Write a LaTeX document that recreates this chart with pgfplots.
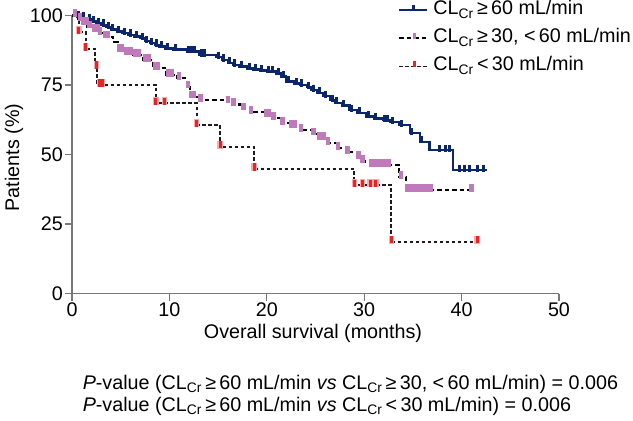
\documentclass[border=0pt]{standalone}
\usepackage{pgfplots}
\pgfplotsset{compat=1.18}
\usepackage{fontspec}
\setmainfont{Liberation Sans}
\definecolor{navy}{RGB}{12,38,110}
\definecolor{orchid}{RGB}{192,122,188}
\definecolor{kmred}{RGB}{232,36,36}
\definecolor{glow}{RGB}{255,170,170}
\definecolor{axgray}{RGB}{120,120,120}
\definecolor{dark}{RGB}{30,25,35}
\pgfdeclareplotmark{utick}{\pgfpathmoveto{\pgfpoint{0pt}{-0.3\pgfplotmarksize}}\pgfpathlineto{\pgfpoint{0pt}{\pgfplotmarksize}}\pgfusepathqstroke}
\begin{document}
\fontsize{19.8}{23}\selectfont
\begin{tikzpicture}
\begin{axis}[
  scale only axis, width=487bp, height=278bp,
  xmin=0, xmax=50, ymin=0, ymax=100,
  axis lines=left, axis line style={-, axgray, line width=1.2bp},
  tick style={axgray, line width=1.2bp}, tick align=outside, major tick length=7bp,
  xtick={0,10,20,30,40,50}, ytick={0,25,50,75,100},
  /pgf/number format/assume math mode=true,
  xticklabel style={inner sep=2bp},
  yticklabel style={inner sep=2bp},
  clip=false,
  legend style={draw=none, fill=none, at={(axis cs:33.5,105.3)}, anchor=north west,
    inner sep=0pt, row sep=9bp, column sep=5bp,
    nodes={inner sep=0pt, text height=14bp, text depth=5bp}},
  legend cell align=left,
]
% CLcr >= 60
\addplot[const plot, navy, line width=2.4bp, forget plot] coordinates {
(0,100)(0.5,99.6)(1,99.2)(1.5,98.6)(2,98)(2.5,97.3)(3,96.6)(3.5,95.8)(4,95)(4.6,94.2)
(5.2,93.6)(5.8,93)(6.4,92.4)(7,91.8)(7.5,90.8)(8,90)(8.5,89.4)(9,88.8)(9.6,88.2)(10.4,87.8)
(11.8,87)(13.1,85.8)(14.8,85)(15.4,84)(16,83)(16.5,82.2)(17.2,81.6)(18,81)(18.6,80.6)(19.3,80.2)
(20,79.8)(21,79.2)(21.5,78)(22,76.2)(22.8,75.6)(23.4,75)(24.1,74.2)(24.6,73.2)(25.2,72.2)(25.8,71)
(26.5,69.6)(27,68.6)(27.7,67.6)(28.5,66)(29.3,65)(30.2,63.6)(31,63)(31.9,62.4)(32.7,61.6)(33.6,60.6)
(34.7,57.7)(35.7,54.6)(36.7,51.6)(39.1,44.4)(42.6,44.4)};
\addplot[only marks, mark=utick, mark size=5.5bp, navy, line width=3bp, forget plot] coordinates {
(0.7,99.6)(1.2,99.2)(1.8,98.6)(2.2,98)(2.7,97.3)(3.2,96.6)(3.7,95.8)(4.2,95)(4.8,94.2)(5.4,93.6)
(6,93)(6.6,92.4)(7.2,91.8)(7.7,90.8)(8.2,90)(8.7,89.4)(9.2,88.8)(9.8,88.2)(10.6,87.8)(12,87)
(12.3,87)(12.6,87)(13.3,85.8)(13.6,85.8)(15,85)(15.6,84)(16.2,83)(16.7,82.2)(17.4,81.6)(18.2,81)
(18.8,80.6)(19.5,80.2)(20.2,79.8)(20.6,79.8)(21.2,79.2)(21.7,78)(22.2,76.2)(23,75.6)(23.6,75)(24.3,74.2)
(24.8,73.2)(25.4,72.2)(26,71)(26.7,69.6)(27.2,68.6)(27.9,67.6)(28.7,66)(29.5,65)(30.4,63.6)(31.2,63)
(32.1,62.4)(32.4,62.4)(32.9,61.6)(33.8,60.6)(34.9,57.7)(35.9,54.6)(37.7,51.6)(38.3,51.6)(38.8,51.6)
(39.8,44.4)(40.3,44.4)(40.8,44.4)(41.6,44.4)(42.2,44.4)};
% CLcr >= 30, < 60
\addplot[const plot, black, line width=2.2bp, dash pattern=on 4.5bp off 3bp, forget plot] coordinates {
(0,100)(0.6,98.8)(1.1,97.2)(1.6,96)(2.2,94.8)(2.7,93.6)(3.2,92.4)(4.2,90.6)(4.7,87.6)(5.5,86.6)
(6.3,85.8)(7.3,84)(8.3,81)(9.7,78.6)(10.8,77.4)(11.8,74.4)(12.1,70.8)(13.1,69.6)(15.9,69)(16.5,68)
(17.5,66.5)(18.3,65.3)(19.8,64.3)(20.6,63)(21.5,61.4)(22.4,60.2)(23.4,58.8)(24.7,57.5)(25.3,55.8)(26.2,54)
(27.2,52.4)(28.2,51)(29.3,49)(29.7,47.5)(30.6,46.2)(33.6,42)(34.3,37.2)(40.8,37.2)};
\addplot[only marks, mark=utick, mark size=6bp, orchid, line width=4.5bp, forget plot] coordinates {
(0.3,100)(0.8,98.8)(1.2,97.2)(1.5,97.2)(1.8,96)(2.3,94.8)(2.6,94.8)(2.9,93.6)(3.4,92.4)(3.7,92.4)
(4.8,87.6)(5.1,87.6)(5.6,86.6)(6.0,86.6)(6.5,85.8)(6.9,85.8)(7.5,84)(7.9,84)(8.5,81)(8.8,81)
(9.9,78.6)(10.2,78.6)(11,77.4)(11.9,74.4)(12.2,70.8)(12.5,70.8)(13.2,69.6)(16,69)(16.6,68)(17.6,66.5)
(18.4,65.3)(19.9,64.3)(20.2,64.3)(20.7,63)(21.6,61.4)(22.5,60.2)(22.9,60.2)(23.5,58.8)(24.8,57.5)(25.4,55.8)
(25.8,55.8)(26.3,54)(27.3,52.4)(28.3,51)(29.4,49)(29.8,47.5)(30.7,46.2)(31,46.2)(31.3,46.2)(31.6,46.2)
(32.1,46.2)(32.5,46.2)(33.8,42)(34.4,37.2)(34.8,37.2)(35.2,37.2)(35.6,37.2)(36,37.2)(36.4,37.2)(36.8,37.2)(41,37.2)};
% CLcr < 30
\addplot[const plot, dark, line width=2bp, dash pattern=on 3.5bp off 2.5bp, forget plot] coordinates {
(0,100)(0.7,94)(1.4,88)(2.4,81.5)(2.6,75)(8.6,68.5)(12.8,60.5)(15.2,52.8)(18.7,44.8)(29,39)(32.8,18.6)(41.6,18.6)};
\addplot[only marks, mark=utick, mark size=6bp, glow, line width=5.5bp, forget plot] coordinates {
(0.7,94)(1.4,88)(2.5,81.5)(2.8,75)(3.1,75)(8.6,68.5)(9.5,68.5)(12.8,60.5)(15.2,52.8)(18.7,44.8)
(29,39)(29.8,39)(30.6,39)(31.2,39)(32.8,18.6)(41.6,18.6)};
\addplot[only marks, mark=utick, mark size=5.5bp, kmred, line width=3bp, forget plot] coordinates {
(0.7,94)(1.4,88)(2.5,81.5)(2.8,75)(3.1,75)(8.6,68.5)(9.5,68.5)(12.8,60.5)(15.2,52.8)(18.7,44.8)
(29,39)(29.8,39)(30.6,39)(31.2,39)(32.8,18.6)(41.6,18.6)};
% legend
\addlegendimage{legend image code/.code={\draw[navy,line width=2bp] (0bp,0bp)--(28bp,0bp); \draw[navy,line width=2.6bp] (14bp,-1bp)--(14bp,5bp);}}
\addlegendentry{CL\textsubscript{Cr}\,≥\,60 mL/min}
\addlegendimage{legend image code/.code={\draw[black,line width=2bp,dash pattern=on 4.5bp off 3bp] (0bp,0bp)--(28bp,0bp); \draw[orchid,line width=3.5bp] (15bp,-1bp)--(15bp,5bp);}}
\addlegendentry{CL\textsubscript{Cr}\,≥\,30, <\,60 mL/min}
\addlegendimage{legend image code/.code={\draw[dark,line width=1.8bp,dash pattern=on 3.5bp off 2.5bp] (0bp,0bp)--(28bp,0bp); \draw[kmred,line width=3.5bp] (15bp,-1bp)--(15bp,5bp);}}
\addlegendentry{CL\textsubscript{Cr}\,<\,30 mL/min}
\end{axis}
\node[rotate=90] at (-58bp,136bp) {Patients (\%)};
\node at (241bp,-40bp) {Overall survival (months)};
\node[anchor=base west] at (4bp,-96bp) {\textit{P}-value (CL\textsubscript{Cr}\,≥\,60 mL/min \textit{vs} CL\textsubscript{Cr}\,≥\,30, <\,60 mL/min) = 0.006};
\node[anchor=base west] at (4bp,-118bp) {\textit{P}-value (CL\textsubscript{Cr}\,≥\,60 mL/min \textit{vs} CL\textsubscript{Cr}\,<\,30 mL/min) = 0.006};
\pgfresetboundingbox
\useasboundingbox (-72bp,-127.5bp) rectangle (561bp,293.5bp);
\end{tikzpicture}
\end{document}
